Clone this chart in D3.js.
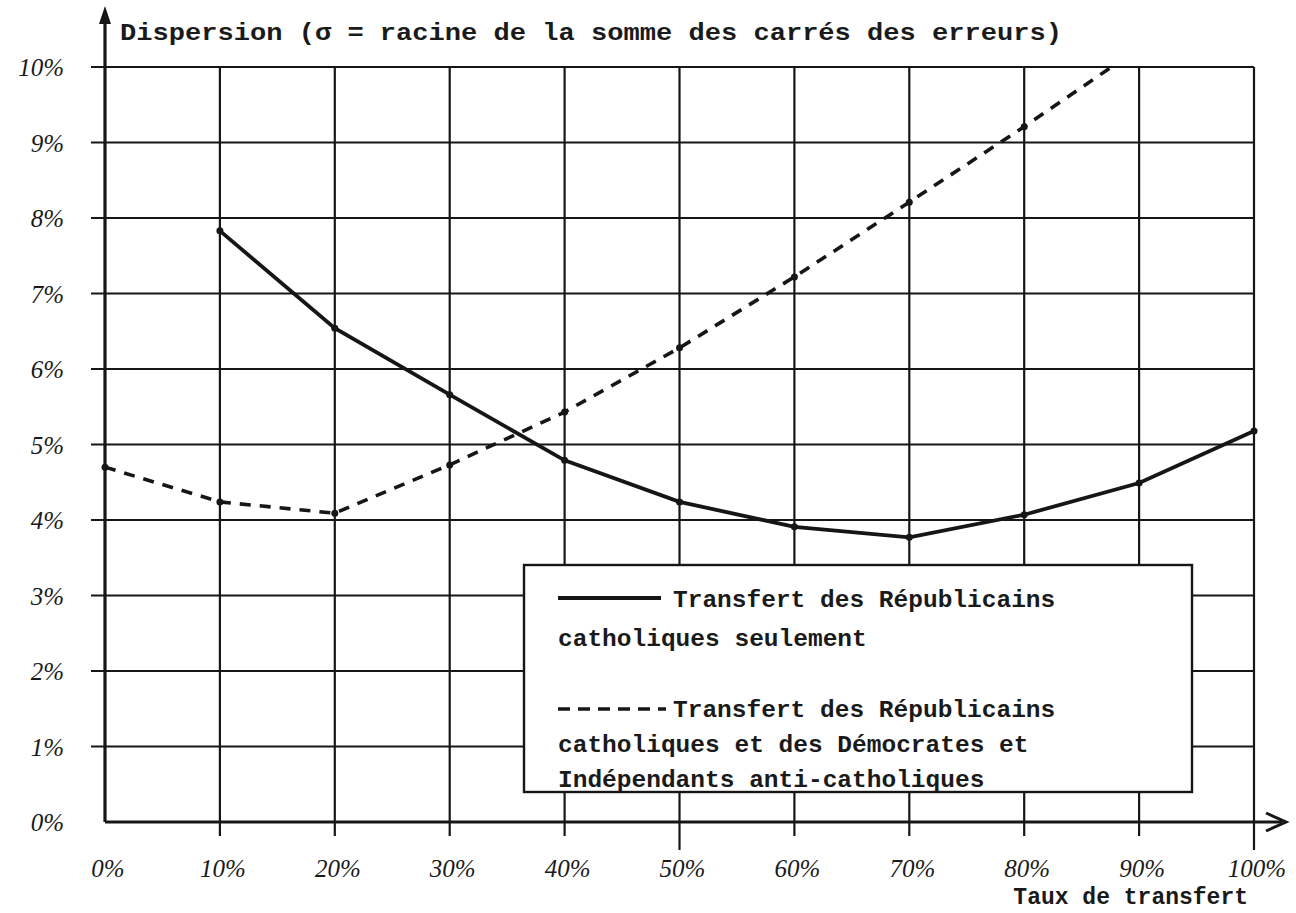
<!DOCTYPE html>
<html>
<head>
<meta charset="utf-8">
<script src="https://cdn.jsdelivr.net/npm/d3@7"></script>
<style>
  html, body { margin: 0; padding: 0; background: #ffffff; }
  svg { display: block; }
  .tw { font-family: "Liberation Mono", "DejaVu Sans Mono", monospace; font-weight: bold; fill: #1a1a1a; }
  .hw { font-family: "Liberation Serif", "DejaVu Serif", serif; font-style: italic; fill: #1a1a1a; }
</style>
</head>
<body>
<svg id="chart" width="1296" height="913"></svg>
<script>
// ---- data ----
const xTicks = [0, 10, 20, 30, 40, 50, 60, 70, 80, 90, 100];
const yTicks = [0, 1, 2, 3, 4, 5, 6, 7, 8, 9, 10];
const xTickLabels = ["0%", "10%", "20%", "30%", "40%", "50%", "60%", "70%", "80%", "90%", "100%"];
const yTickLabels = ["0%", "1%", "2%", "3%", "4%", "5%", "6%", "7%", "8%", "9%", "10%"];

const solidRates = [10, 20, 30, 40, 50, 60, 70, 80, 90, 100];
const solidValues = [7.83, 6.54, 5.66, 4.79, 4.24, 3.91, 3.77, 4.07, 4.49, 5.18];

const dashedRates = [0, 10, 20, 30, 40, 50, 60, 70, 80, 90];
const dashedValues = [4.70, 4.24, 4.09, 4.73, 5.43, 6.28, 7.22, 8.21, 9.21, 10.25];

const titleText = "Dispersion (σ = racine de la somme des carrés des erreurs)";
const xTitleText = "Taux de transfert";
const legendSolid = ["Transfert des Républicains", "catholiques seulement"];
const legendDashed = ["Transfert des Républicains", "catholiques et des Démocrates et", "Indépendants anti-catholiques"];

// ---- drawing ----
const svg = d3.select("#chart");
const x = d3.scaleLinear().domain([0, 100]).range([105, 1254]);
const y = d3.scaleLinear().domain([0, 10]).range([822, 67]);
const ink = "#161616";

// clip to plot area
svg.append("defs").append("clipPath").attr("id", "plotclip")
  .append("rect").attr("x", x(0) - 5).attr("y", y(10)).attr("width", x(100) - x(0) + 10).attr("height", y(0) - y(10));

// grid: horizontal
const g = svg.append("g");
g.selectAll("line.h").data(yTicks.filter(d => d > 0)).join("line")
  .attr("x1", x(0) - 14).attr("x2", x(100))
  .attr("y1", d => y(d)).attr("y2", d => y(d))
  .attr("stroke", ink).attr("stroke-width", 2.2);
// grid: vertical
g.selectAll("line.v").data(xTicks.filter(d => d > 0)).join("line")
  .attr("x1", d => x(d)).attr("x2", d => x(d))
  .attr("y1", y(10)).attr("y2", d => (d === 50 || d === 100) ? y(0) + 28 : y(0) + 14)
  .attr("stroke", ink).attr("stroke-width", 2.2);

// axes
svg.append("line").attr("x1", x(0)).attr("x2", x(0)).attr("y1", y(0)).attr("y2", 12)
  .attr("stroke", ink).attr("stroke-width", 3.2);
svg.append("path").attr("d", `M${x(0)-6},24 L${x(0)},6 L${x(0)+6},24 Z`).attr("fill", ink);
svg.append("line").attr("x1", x(0)).attr("x2", 1282).attr("y1", y(0)).attr("y2", y(0))
  .attr("stroke", ink).attr("stroke-width", 3.2);
svg.append("path").attr("d", `M1266,${y(0)-9} L1286,${y(0)} L1266,${y(0)+9}`)
  .attr("fill", "none").attr("stroke", ink).attr("stroke-width", 3);

// tick labels
svg.selectAll("text.yl").data(yTicks).join("text").attr("class", "hw")
  .attr("x", 64).attr("y", d => y(d) + 9).attr("text-anchor", "end")
  .attr("font-size", 25).text((d, i) => yTickLabels[i]);
svg.selectAll("text.xl").data(xTicks).join("text").attr("class", "hw")
  .attr("x", d => x(d) + 3).attr("y", 877).attr("text-anchor", "middle")
  .attr("font-size", 25).text((d, i) => xTickLabels[i]);

// titles
svg.append("text").attr("class", "tw").attr("x", 120).attr("y", 40)
  .attr("font-size", 24).attr("textLength", 942).attr("lengthAdjust", "spacingAndGlyphs").text(titleText);
svg.append("text").attr("class", "tw").attr("x", 1248).attr("y", 904).attr("text-anchor", "end")
  .attr("font-size", 23).text(xTitleText);

// series
const plot = svg.append("g").attr("clip-path", "url(#plotclip)");
const line = d3.line().x(d => x(d[0])).y(d => y(d[1]));
const solidPts = solidRates.map((r, i) => [r, solidValues[i]]);
const dashedPts = dashedRates.map((r, i) => [r, dashedValues[i]]);

plot.append("path").datum(dashedPts).attr("d", line)
  .attr("fill", "none").attr("stroke", ink).attr("stroke-width", 3.6)
  .attr("stroke-dasharray", "11,9");
plot.append("path").datum(solidPts).attr("d", line)
  .attr("fill", "none").attr("stroke", ink).attr("stroke-width", 3.8);

plot.selectAll("circle.s").data(solidPts).join("circle")
  .attr("cx", d => x(d[0])).attr("cy", d => y(d[1])).attr("r", 3.5).attr("fill", ink);
plot.selectAll("circle.d").data(dashedPts.filter(d => d[1] <= 10)).join("circle")
  .attr("cx", d => x(d[0])).attr("cy", d => y(d[1])).attr("r", 3.5).attr("fill", ink);

// legend
const lg = svg.append("g");
lg.append("rect").attr("x", 524).attr("y", 565).attr("width", 668).attr("height", 227)
  .attr("fill", "#ffffff").attr("stroke", ink).attr("stroke-width", 2.4);
lg.append("line").attr("x1", 558).attr("x2", 661).attr("y1", 598).attr("y2", 598)
  .attr("stroke", ink).attr("stroke-width", 3.8);
lg.append("line").attr("x1", 558).attr("x2", 666).attr("y1", 709).attr("y2", 709)
  .attr("stroke", ink).attr("stroke-width", 3.6).attr("stroke-dasharray", "12,8");
lg.append("text").attr("class", "tw").attr("x", 673).attr("y", 607).attr("font-size", 24.5).text(legendSolid[0]);
lg.append("text").attr("class", "tw").attr("x", 558).attr("y", 646).attr("font-size", 24.5).text(legendSolid[1]);
lg.append("text").attr("class", "tw").attr("x", 673).attr("y", 717).attr("font-size", 24.5).text(legendDashed[0]);
lg.append("text").attr("class", "tw").attr("x", 558).attr("y", 752).attr("font-size", 24.5).text(legendDashed[1]);
lg.append("text").attr("class", "tw").attr("x", 558).attr("y", 787).attr("font-size", 24.5).text(legendDashed[2]);
</script>
</body>
</html>
